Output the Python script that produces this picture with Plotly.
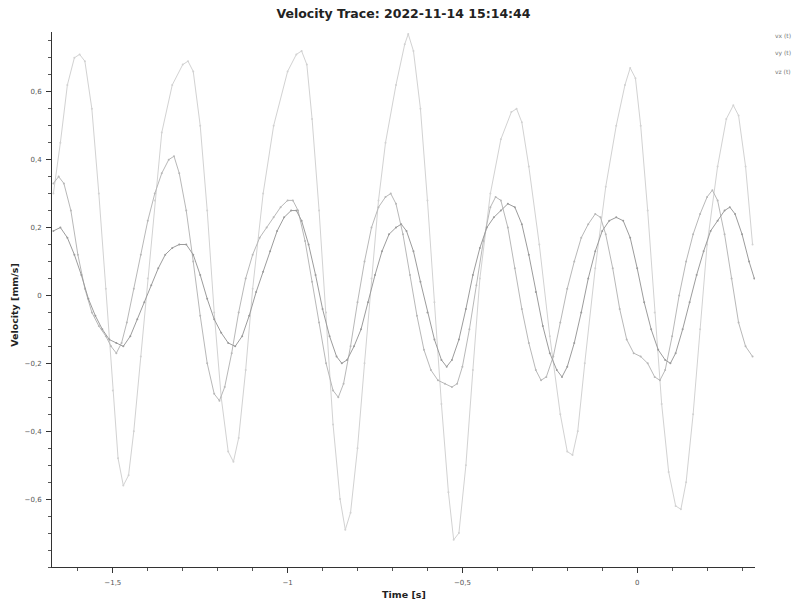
import plotly.graph_objects as go

title_text = "Velocity Trace: 2022-11-14 15:14:44"
x_label = "Time [s]"
y_label = "Velocity [mm/s]"
names = ["vx (t)", "vy (t)", "vz (t)"]

t_a = [-1.67, -1.65, -1.63, -1.61, -1.595, -1.58, -1.56, -1.54, -1.52, -1.50, -1.485, -1.47, -1.455, -1.44, -1.42,
       -1.40, -1.38, -1.36, -1.33, -1.30, -1.285, -1.27, -1.25, -1.23, -1.21, -1.19, -1.17, -1.155, -1.14, -1.12,
       -1.10, -1.07, -1.04, -1.00, -0.975, -0.96, -0.945, -0.93, -0.91, -0.89, -0.87, -0.85, -0.835, -0.82, -0.80,
       -0.78, -0.76, -0.74, -0.72, -0.69, -0.665, -0.655, -0.64, -0.62, -0.60, -0.58, -0.56, -0.54, -0.525, -0.51,
       -0.49, -0.47, -0.45, -0.42, -0.39, -0.36, -0.345, -0.33, -0.31, -0.28, -0.25, -0.22, -0.20, -0.185, -0.17,
       -0.15, -0.12, -0.09, -0.06, -0.035, -0.02, -0.005, 0.01, 0.03, 0.05, 0.07, 0.09, 0.11, 0.125, 0.14,
       0.16, 0.18, 0.20, 0.23, 0.255, 0.275, 0.29, 0.31, 0.33]
v_a = [0.30, 0.45, 0.62, 0.70, 0.71, 0.69, 0.55, 0.30, 0.02, -0.28, -0.48, -0.56, -0.53, -0.40, -0.18,
       0.05, 0.28, 0.48, 0.62, 0.68, 0.69, 0.66, 0.50, 0.25, -0.05, -0.30, -0.46, -0.49, -0.42, -0.22,
       0.02, 0.30, 0.50, 0.66, 0.71, 0.72, 0.68, 0.52, 0.25, -0.05, -0.38, -0.60, -0.69, -0.64, -0.45,
       -0.20, 0.05, 0.28, 0.45, 0.62, 0.74, 0.77, 0.72, 0.55, 0.28, -0.02, -0.32, -0.58, -0.72, -0.70,
       -0.50, -0.22, 0.05, 0.30, 0.46, 0.54, 0.55, 0.51, 0.38, 0.15, -0.12, -0.35, -0.46, -0.47, -0.40,
       -0.20, 0.08, 0.32, 0.50, 0.62, 0.67, 0.64, 0.50, 0.25, -0.05, -0.32, -0.52, -0.62, -0.63, -0.55,
       -0.35, -0.10, 0.15, 0.38, 0.52, 0.56, 0.53, 0.38, 0.15]

t_b = [-1.67, -1.655, -1.64, -1.62, -1.60, -1.58, -1.56, -1.54, -1.52, -1.505, -1.49, -1.475, -1.46, -1.44, -1.42,
       -1.40, -1.38, -1.36, -1.34, -1.325, -1.31, -1.29, -1.27, -1.25, -1.23, -1.21, -1.195, -1.18, -1.16, -1.14,
       -1.12, -1.10, -1.08, -1.06, -1.04, -1.02, -1.00, -0.985, -0.97, -0.95, -0.93, -0.91, -0.89, -0.87, -0.855,
       -0.84, -0.82, -0.80, -0.78, -0.76, -0.74, -0.72, -0.705, -0.69, -0.67, -0.65, -0.63, -0.61, -0.59, -0.57,
       -0.55, -0.53, -0.515, -0.50, -0.48, -0.46, -0.44, -0.42, -0.405, -0.39, -0.37, -0.35, -0.33, -0.31, -0.29,
       -0.275, -0.26, -0.24, -0.22, -0.20, -0.18, -0.16, -0.14, -0.12, -0.105, -0.09, -0.07, -0.05, -0.03, -0.01,
       0.01, 0.03, 0.05, 0.065, 0.08, 0.10, 0.12, 0.14, 0.16, 0.18, 0.20, 0.215, 0.23, 0.25, 0.27,
       0.29, 0.31, 0.33]
v_b = [0.33, 0.35, 0.33, 0.25, 0.12, 0.02, -0.05, -0.09, -0.12, -0.15, -0.17, -0.14, -0.08, 0.02, 0.12,
       0.22, 0.30, 0.36, 0.40, 0.41, 0.36, 0.25, 0.10, -0.06, -0.20, -0.29, -0.31, -0.27, -0.17, -0.05,
       0.05, 0.12, 0.17, 0.20, 0.23, 0.26, 0.28, 0.28, 0.25, 0.16, 0.04, -0.08, -0.20, -0.28, -0.30,
       -0.26, -0.15, -0.02, 0.10, 0.20, 0.26, 0.29, 0.30, 0.27, 0.18, 0.06, -0.06, -0.16, -0.22, -0.25,
       -0.26, -0.27, -0.26, -0.21, -0.10, 0.03, 0.16, 0.26, 0.29, 0.28, 0.20, 0.08, -0.04, -0.14, -0.22,
       -0.25, -0.24, -0.18, -0.08, 0.02, 0.10, 0.17, 0.21, 0.24, 0.23, 0.18, 0.08, -0.04, -0.13, -0.17,
       -0.18, -0.20, -0.24, -0.25, -0.22, -0.12, 0.00, 0.10, 0.18, 0.24, 0.29, 0.31, 0.28, 0.18, 0.05,
       -0.08, -0.15, -0.18]

t_c = [-1.67, -1.65, -1.63, -1.61, -1.59, -1.57, -1.55, -1.53, -1.51, -1.49, -1.47, -1.45, -1.43, -1.41, -1.39,
       -1.37, -1.35, -1.33, -1.31, -1.29, -1.27, -1.25, -1.23, -1.21, -1.19, -1.17, -1.15, -1.13, -1.11, -1.09,
       -1.07, -1.05, -1.03, -1.01, -0.99, -0.975, -0.96, -0.94, -0.92, -0.90, -0.88, -0.86, -0.845, -0.83, -0.81,
       -0.79, -0.77, -0.75, -0.73, -0.71, -0.69, -0.675, -0.66, -0.64, -0.62, -0.60, -0.58, -0.56, -0.545, -0.53,
       -0.51, -0.49, -0.47, -0.45, -0.43, -0.41, -0.39, -0.37, -0.35, -0.33, -0.31, -0.29, -0.27, -0.25, -0.23,
       -0.215, -0.20, -0.18, -0.16, -0.14, -0.12, -0.10, -0.08, -0.06, -0.04, -0.02, 0.00, 0.02, 0.04, 0.06,
       0.08, 0.095, 0.11, 0.13, 0.15, 0.17, 0.19, 0.21, 0.23, 0.25, 0.265, 0.28, 0.30, 0.32, 0.335]
v_c = [0.19, 0.20, 0.17, 0.12, 0.06, -0.01, -0.06, -0.10, -0.13, -0.14, -0.15, -0.12, -0.07, -0.02, 0.03,
       0.08, 0.12, 0.14, 0.15, 0.15, 0.12, 0.06, -0.01, -0.07, -0.11, -0.14, -0.15, -0.12, -0.06, 0.01,
       0.07, 0.13, 0.19, 0.23, 0.25, 0.25, 0.22, 0.15, 0.06, -0.04, -0.12, -0.18, -0.20, -0.19, -0.15,
       -0.10, -0.02, 0.06, 0.13, 0.18, 0.20, 0.21, 0.19, 0.13, 0.04, -0.05, -0.13, -0.19, -0.21, -0.19,
       -0.13, -0.04, 0.06, 0.14, 0.20, 0.23, 0.25, 0.27, 0.26, 0.21, 0.12, 0.01, -0.09, -0.17, -0.22,
       -0.24, -0.21, -0.14, -0.05, 0.05, 0.13, 0.19, 0.22, 0.23, 0.22, 0.17, 0.08, -0.02, -0.10, -0.16,
       -0.19, -0.20, -0.17, -0.10, -0.02, 0.06, 0.13, 0.19, 0.22, 0.25, 0.26, 0.24, 0.18, 0.10, 0.05]

x_ticks = [-1.5, -1.0, -0.5, 0.0]
y_ticks = [-0.6, -0.4, -0.2, 0.0, 0.2, 0.4, 0.6]

fig = go.Figure()
colors = ["#d2d2d2", "#b8b8b8", "#9c9c9c"]
for t, v, n, c in [(t_a, v_a, names[0], colors[0]), (t_b, v_b, names[1], colors[1]), (t_c, v_c, names[2], colors[2])]:
    fig.add_trace(go.Scatter(x=t, y=v, name=n, mode="lines+markers",
                             line=dict(color=c, width=1),
                             marker=dict(color=c, size=2),
                             showlegend=False))

# legend entries drawn as text at the top right, as in the reference
for i, n in enumerate(names):
    fig.add_annotation(x=1.026, y=0.994 - i * 0.034, xref="paper", yref="paper",
                       text=n, showarrow=False, xanchor="left", yanchor="middle",
                       font=dict(family="DejaVu Sans", size=6, color="#777777"))

# axis titles
fig.add_annotation(x=0.5, y=-0.0523, xref="paper", yref="paper", text="<b>" + x_label + "</b>",
                   showarrow=False, xanchor="center", yanchor="middle",
                   font=dict(family="DejaVu Sans", size=9.5, color="#222222"))
fig.add_annotation(x=-0.0526, y=0.49, xref="paper", yref="paper", text="<b>" + y_label + "</b>",
                   showarrow=False, xanchor="center", yanchor="middle", textangle=-90,
                   font=dict(family="DejaVu Sans", size=9.5, color="#222222"))

axis_font = dict(family="DejaVu Sans", size=7, color="#555555")
fig.update_layout(
    width=797, height=606,
    paper_bgcolor="white", plot_bgcolor="white",
    separators=",.",
    margin=dict(l=52, r=42, t=32, b=39, autoexpand=False),
    title=dict(text="<b>" + title_text + "</b>", x=0.5, xref="paper", xanchor="center", y=0.977, yanchor="middle",
               font=dict(family="DejaVu Sans", size=12.5, color="#222222")),
    xaxis=dict(range=[-1.674, 0.337], tickvals=x_ticks, showgrid=False, zeroline=False,
               showline=True, linecolor="#333333", linewidth=1, ticks="outside", ticklen=5, tickcolor="#333333",
               minor=dict(dtick=0.1, ticks="outside", ticklen=3, tickcolor="#555555"),
               tickfont=axis_font, ticklabelstandoff=4),
    yaxis=dict(range=[-0.8, 0.776], tickvals=y_ticks, showgrid=False, zeroline=False,
               showline=True, linecolor="#333333", linewidth=1, ticks="outside", ticklen=5, tickcolor="#333333",
               minor=dict(dtick=0.05, ticks="outside", ticklen=3, tickcolor="#555555"),
               tickfont=axis_font, ticklabelstandoff=3),
)

fig.write_html("out.html", config={"displayModeBar": False},
               post_script="document.body.style.margin='0';")
